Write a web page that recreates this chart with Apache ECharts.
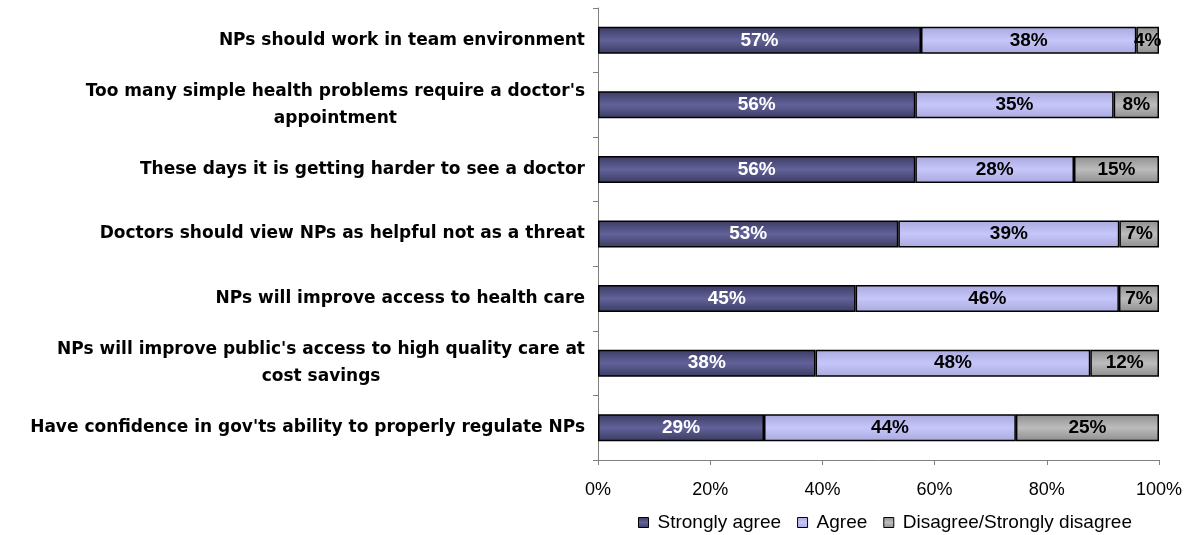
<!DOCTYPE html>
<html>
<head>
<meta charset="utf-8">
<script src="https://cdn.jsdelivr.net/npm/echarts@6/dist/echarts.min.js"></script>
<style>
  html, body { margin: 0; padding: 0; background: #ffffff; }
  #chart { width: 1199px; height: 535px; }
</style>
</head>
<body>
<div id="chart"></div>
<script>
const categories = [
  "NPs should work in team environment",
  "Too many simple health problems require a doctor's\nappointment",
  "These days it is getting harder to see a doctor",
  "Doctors should view NPs as helpful not as a threat",
  "NPs will improve access to health care",
  "NPs will improve public's access to high quality care at\ncost savings",
  "Have confidence in gov'ts ability to properly regulate NPs"
];
const seriesNames = ["Strongly agree", "Agree", "Disagree/Strongly disagree"];
const stronglyAgree = [57, 56, 56, 53, 45, 38, 29];
const agree = [38, 35, 28, 39, 46, 48, 44];
const disagree = [4, 8, 15, 7, 7, 12, 25];
const xTicks = [0, 20, 40, 60, 80, 100];

const raw = [stronglyAgree, agree, disagree];
const totals = categories.map((_, i) => stronglyAgree[i] + agree[i] + disagree[i]);

function grad(edge, mid) {
  return new echarts.graphic.LinearGradient(0, 0, 0, 1, [
    { offset: 0, color: edge },
    { offset: 0.5, color: mid },
    { offset: 1, color: edge }
  ]);
}
const fills = [
  grad('#3b3b62', '#62629a'),
  grad('#a9a9de', '#c6c6fa'),
  grad('#8e8e8e', '#bcbcbc')
];
const labelColors = ['#ffffff', '#000000', '#000000'];

const series = seriesNames.map((name, s) => ({
  name: name,
  type: 'bar',
  stack: 'total',
  barWidth: 27,
  data: raw[s].map((v, i) => ({ value: v / totals[i] * 100, raw: v })),
  itemStyle: { color: fills[s], borderColor: '#000000', borderWidth: 1.5 },
  label: {
    show: true,
    position: 'inside',
    formatter: p => p.data.raw + '%',
    color: labelColors[s],
    fontFamily: 'Liberation Sans, Arial, sans-serif',
    fontWeight: 'bold',
    fontSize: 19
  },
  emphasis: { disabled: true }
}));

const chart = echarts.init(document.getElementById('chart'), null, { renderer: 'canvas' });
chart.setOption({
  animation: false,
  backgroundColor: '#ffffff',
  grid: { left: 598, right: 40, top: 8, bottom: 75, containLabel: false },
  legend: {
    data: seriesNames,
    left: 633,
    top: 508,
    icon: 'rect',
    itemWidth: 10,
    itemHeight: 10,
    itemGap: 16,
    textStyle: { fontFamily: 'Liberation Sans, Arial, sans-serif', fontSize: 19, color: '#000000', padding: [0, 0, 0, 4] },
    itemStyle: { borderColor: '#000000', borderWidth: 1 }
  },
  xAxis: {
    type: 'value',
    min: 0,
    max: 100,
    interval: 20,
    axisLine: { show: true, lineStyle: { color: '#808080', width: 1 } },
    axisTick: { show: true, length: 5, lineStyle: { color: '#808080' } },
    splitLine: { show: false },
    axisLabel: {
      margin: 21,
      color: '#000000',
      fontFamily: 'Liberation Sans, Arial, sans-serif',
      fontSize: 18,
      formatter: v => xTicks.includes(v) ? v + '%' : ''
    }
  },
  yAxis: {
    type: 'category',
    inverse: true,
    data: categories,
    axisLine: { show: true, lineStyle: { color: '#808080', width: 1 } },
    axisTick: { show: true, length: 5, lineStyle: { color: '#808080' } },
    axisLabel: {
      margin: 13,
      align: 'right',
      formatter: v => v.split('\n').map(l => '{c|' + l + '}').join('\n'),
      rich: {
        c: {
          align: 'center',
          fontFamily: 'DejaVu Sans, sans-serif',
          fontWeight: 'bold',
          fontSize: 17,
          lineHeight: 27,
          color: '#000000'
        }
      }
    }
  },
  series: series
});
</script>
</body>
</html>
